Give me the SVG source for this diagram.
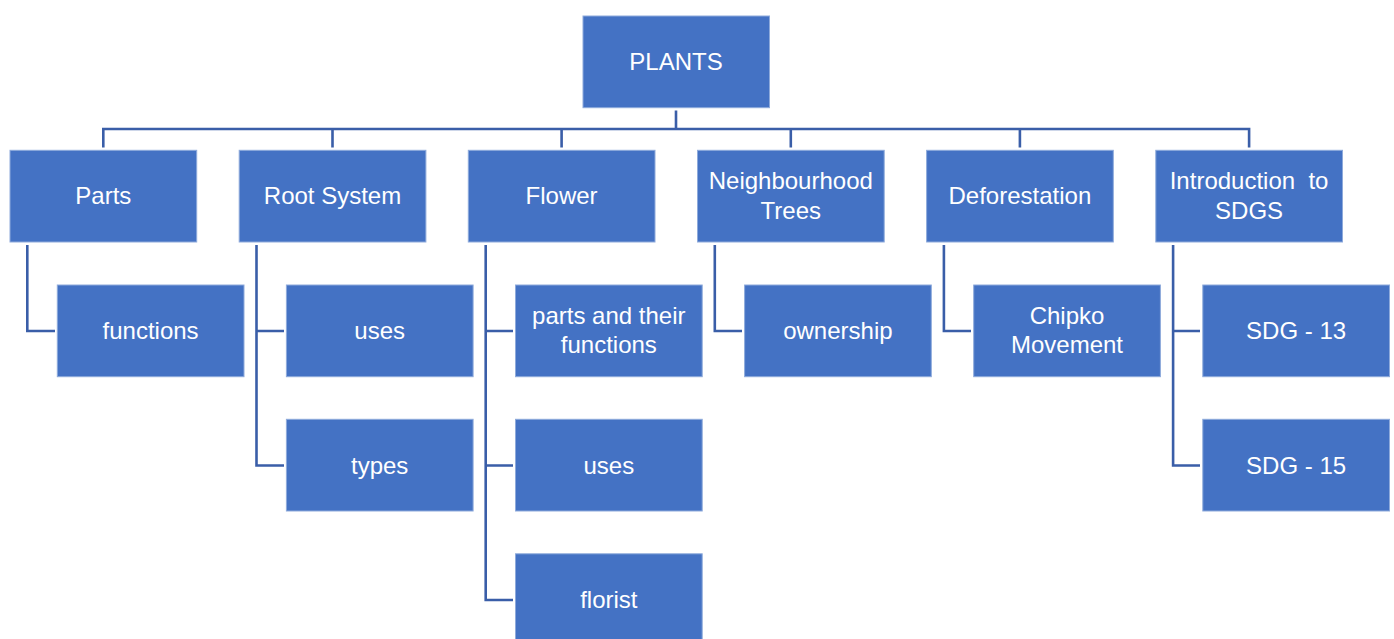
<svg xmlns="http://www.w3.org/2000/svg" width="1394" height="639" viewBox="0 0 1394 639">
<style>
.box{fill:#4472C4;stroke:#8eaadb;stroke-width:1}
.t{fill:#ffffff;font-family:"Liberation Sans",Arial,sans-serif;font-size:24px;text-anchor:middle}
.c{fill:none;stroke:#3A5EA8;stroke-width:2.6;stroke-linejoin:miter}
</style>
<rect width="1394" height="639" fill="#ffffff"/>
<g id="connectors">
<path class="c" d="M676 110.5V129M103.3 147.5V129H1249.1V147.5M332.5 129V147.5M561.6 129V147.5M790.8 129V147.5M1019.9 129V147.5"/>
<path class="c" d="M27.3 245V331H55"/>
<path class="c" d="M256.5 245V465.5H284M256.5 331H284"/>
<path class="c" d="M485.7 245V600H513M485.7 331H513M485.7 465.5H513"/>
<path class="c" d="M714.8 245V331H742"/>
<path class="c" d="M943.9 245V331H971"/>
<path class="c" d="M1173.1 245V465.5H1200M1173.1 331H1200"/>
</g>
<g id="n-plants"><rect class="box" x="583" y="16" width="186.5" height="91.7"/><text class="t" x="676" y="70">PLANTS</text></g>
<g id="n-parts"><rect class="box" x="10" y="150.3" width="186.7" height="91.7"/><text class="t" x="103.3" y="204">Parts</text></g>
<g id="n-root"><rect class="box" x="239.2" y="150.3" width="186.7" height="91.7"/><text class="t" x="332.5" y="204">Root System</text></g>
<g id="n-flower"><rect class="box" x="468.3" y="150.3" width="186.7" height="91.7"/><text class="t" x="561.6" y="204">Flower</text></g>
<g id="n-neigh"><rect class="box" x="697.5" y="150.3" width="186.7" height="91.7"/><text class="t" x="790.8" y="189">Neighbourhood</text><text class="t" x="790.8" y="218.5">Trees</text></g>
<g id="n-defor"><rect class="box" x="926.6" y="150.3" width="186.7" height="91.7"/><text class="t" x="1019.9" y="204">Deforestation</text></g>
<g id="n-intro"><rect class="box" x="1155.8" y="150.3" width="186.7" height="91.7"/><text class="t" x="1249.1" y="189" xml:space="preserve">Introduction  to</text><text class="t" x="1249.1" y="218.5">SDGS</text></g>
<g id="n-functions"><rect class="box" x="57.3" y="285" width="186.7" height="91.7"/><text class="t" x="150.6" y="339">functions</text></g>
<g id="n-root-uses"><rect class="box" x="286.4" y="285" width="186.7" height="91.7"/><text class="t" x="379.7" y="339">uses</text></g>
<g id="n-types"><rect class="box" x="286.4" y="419.3" width="186.7" height="91.7"/><text class="t" x="379.7" y="473.5">types</text></g>
<g id="n-parts-func"><rect class="box" x="515.5" y="285" width="186.7" height="91.7"/><text class="t" x="608.8" y="324">parts and their</text><text class="t" x="608.8" y="353">functions</text></g>
<g id="n-flower-uses"><rect class="box" x="515.5" y="419.3" width="186.7" height="91.7"/><text class="t" x="608.8" y="473.5">uses</text></g>
<g id="n-florist"><rect class="box" x="515.5" y="553.8" width="186.7" height="91.7"/><text class="t" x="608.8" y="608">florist</text></g>
<g id="n-ownership"><rect class="box" x="744.6" y="285" width="186.7" height="91.7"/><text class="t" x="837.9" y="339">ownership</text></g>
<g id="n-chipko"><rect class="box" x="973.7" y="285" width="186.7" height="91.7"/><text class="t" x="1067" y="324">Chipko</text><text class="t" x="1067" y="353">Movement</text></g>
<g id="n-sdg13"><rect class="box" x="1202.8" y="285" width="186.7" height="91.7"/><text class="t" x="1296.1" y="339">SDG - 13</text></g>
<g id="n-sdg15"><rect class="box" x="1202.8" y="419.3" width="186.7" height="91.7"/><text class="t" x="1296.1" y="473.5">SDG - 15</text></g>
</svg>
